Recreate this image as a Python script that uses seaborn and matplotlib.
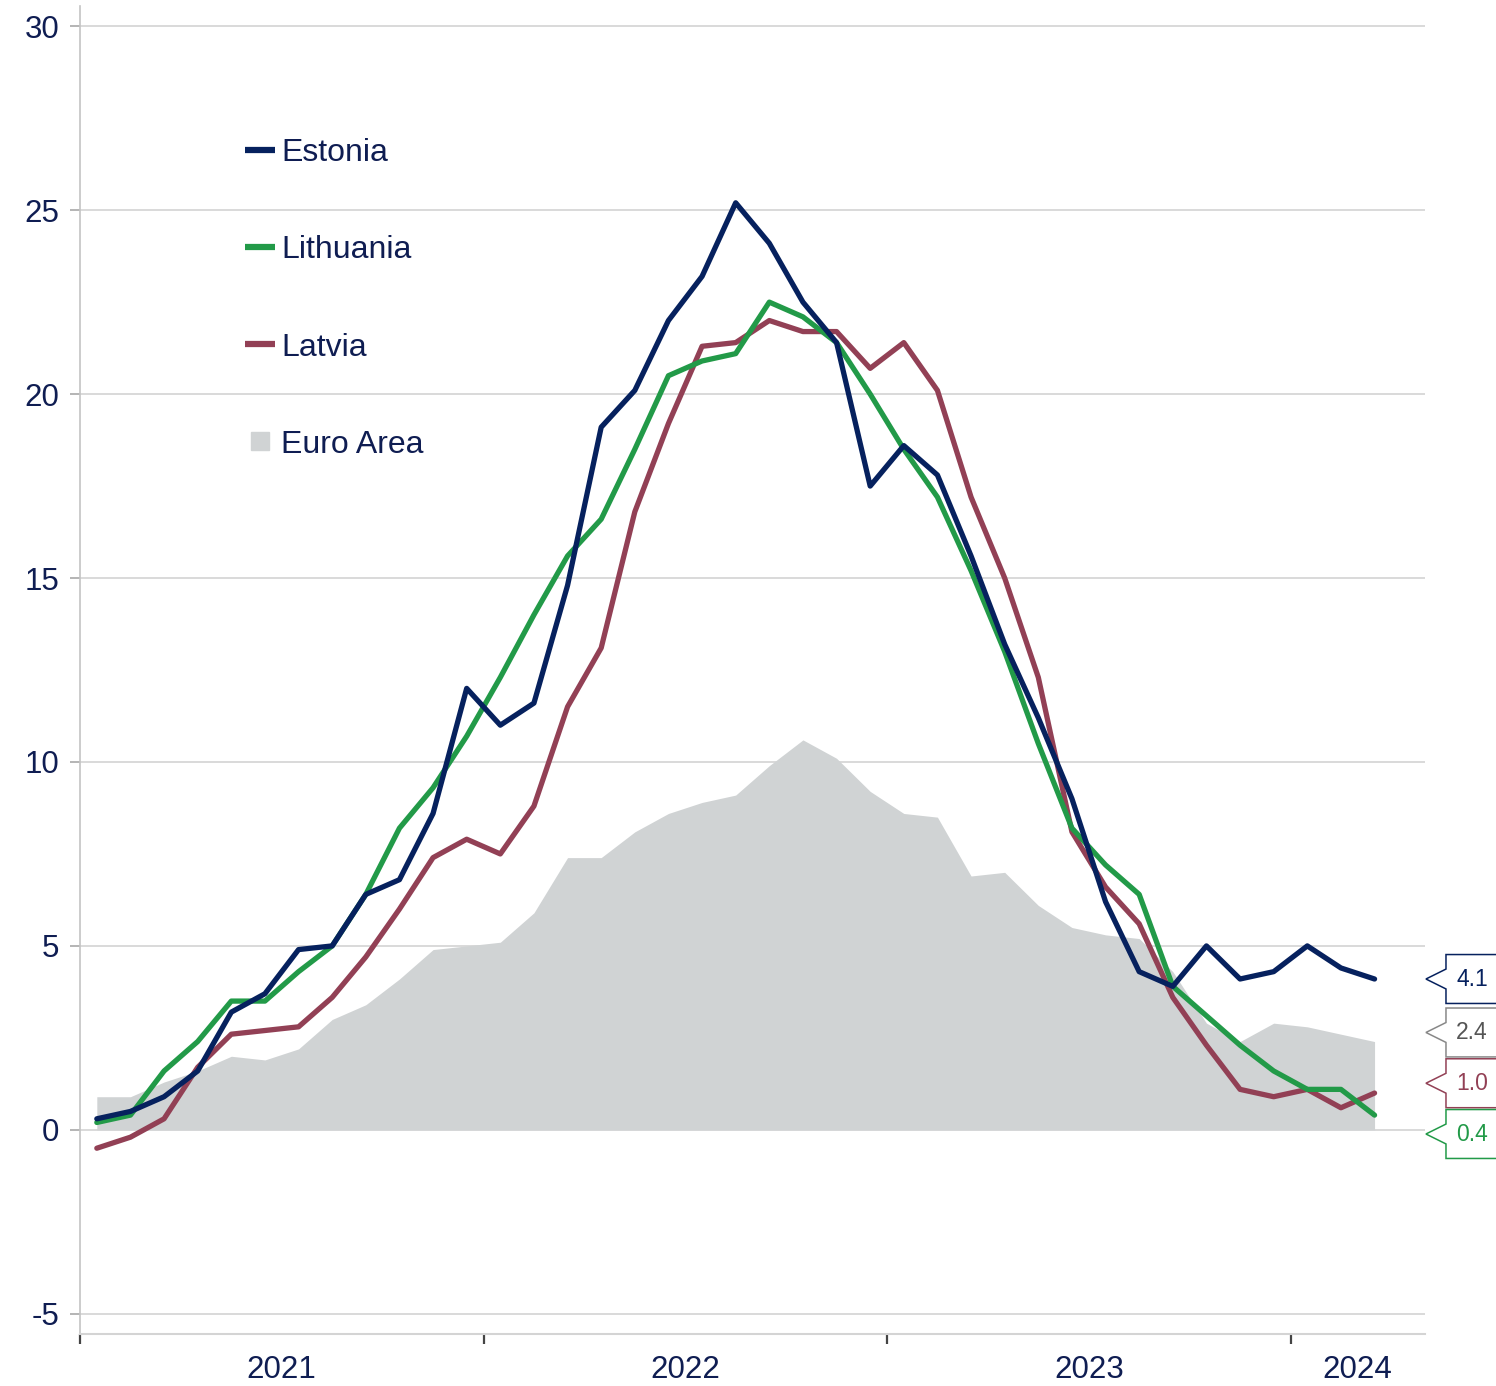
import numpy as np
import pandas as pd
import matplotlib
matplotlib.use("Agg")
import matplotlib.pyplot as plt
import matplotlib.transforms as mtransforms
from matplotlib.lines import Line2D
from matplotlib.patches import Polygon
import seaborn as sns

# monthly HICP inflation, Jan 2021 - Mar 2024
months = pd.period_range("2021-01", "2024-03", freq="M").astype(str).tolist()
estonia = [0.3, 0.5, 0.9, 1.6, 3.2, 3.7, 4.9, 5.0, 6.4, 6.8, 8.6, 12.0,
           11.0, 11.6, 14.8, 19.1, 20.1, 22.0, 23.2, 25.2, 24.1, 22.5, 21.4, 17.5,
           18.6, 17.8, 15.6, 13.2, 11.2, 9.0, 6.2, 4.3, 3.9, 5.0, 4.1, 4.3,
           5.0, 4.4, 4.1]
lithuania = [0.2, 0.4, 1.6, 2.4, 3.5, 3.5, 4.3, 5.0, 6.4, 8.2, 9.3, 10.7,
             12.3, 14.0, 15.6, 16.6, 18.5, 20.5, 20.9, 21.1, 22.5, 22.1, 21.4, 20.0,
             18.5, 17.2, 15.2, 13.0, 10.5, 8.2, 7.2, 6.4, 3.9, 3.1, 2.3, 1.6,
             1.1, 1.1, 0.4]
latvia = [-0.5, -0.2, 0.3, 1.7, 2.6, 2.7, 2.8, 3.6, 4.7, 6.0, 7.4, 7.9,
          7.5, 8.8, 11.5, 13.1, 16.8, 19.2, 21.3, 21.4, 22.0, 21.7, 21.7, 20.7,
          21.4, 20.1, 17.2, 15.0, 12.3, 8.1, 6.6, 5.6, 3.6, 2.3, 1.1, 0.9,
          1.1, 0.6, 1.0]
euro_area = [0.9, 0.9, 1.3, 1.6, 2.0, 1.9, 2.2, 3.0, 3.4, 4.1, 4.9, 5.0,
             5.1, 5.9, 7.4, 7.4, 8.1, 8.6, 8.9, 9.1, 9.9, 10.6, 10.1, 9.2,
             8.6, 8.5, 6.9, 7.0, 6.1, 5.5, 5.3, 5.2, 4.3, 2.9, 2.4, 2.9,
             2.8, 2.6, 2.4]
years = ["2021", "2022", "2023", "2024"]
y_ticks = [-5, 0, 5, 10, 15, 20, 25, 30]

navy = "#06215e"
green = "#229a48"
maroon = "#924055"
grey_fill = "#d0d3d4"
text_col = "#0f1d52"

sns.set_style("white")
plt.rcParams["font.family"] = ["Liberation Sans", "DejaVu Sans"]
plt.rcParams["axes.unicode_minus"] = False

x = np.arange(len(months)) + 0.5
df = pd.DataFrame({"x": x, "Estonia": estonia, "Lithuania": lithuania, "Latvia": latvia})
long = df.melt(id_vars="x", var_name="country", value_name="value")

fig = plt.figure(figsize=(14.96, 13.86), dpi=100)
ax = fig.add_axes([80 / 1496, 52 / 1386, 1345 / 1496, 1328 / 1386])

ax.fill_between(x, 0, euro_area, color=grey_fill, lw=0, zorder=1)
sns.lineplot(data=long, x="x", y="value", hue="country",
             hue_order=["Latvia", "Lithuania", "Estonia"],
             palette={"Estonia": navy, "Lithuania": green, "Latvia": maroon},
             linewidth=3.8, ax=ax, legend=False, zorder=3)

ax.set_xlim(0, 40)
ax.set_ylim(-5.55, 30.55)
ax.set_xlabel("")
ax.set_ylabel("")

# y axis
ax.set_yticks(y_ticks)
ax.set_yticklabels([str(t) for t in y_ticks])
ax.tick_params(axis="y", left=True, length=7, width=1.2, color="#a8a8a8", pad=8,
               labelsize=22.5, labelcolor=text_col)
ax.yaxis.grid(True, color="#d9d9d9", lw=1.4)
ax.set_axisbelow(True)

# x axis: ticks at year boundaries, labels centred in each year
ax.set_xticks([0, 12, 24, 36])
ax.set_xticklabels([])
ax.tick_params(axis="x", which="major", bottom=True, length=7.5, width=1.6,
               color="#444444", direction="out")
ax.set_xticks([6, 18, 30, 38], minor=True)
ax.set_xticklabels(years, minor=True)
ax.tick_params(axis="x", which="minor", bottom=True, length=0, pad=15,
               labelsize=22.5, labelcolor=text_col)

for s in ["top", "right"]:
    ax.spines[s].set_visible(False)
ax.spines["left"].set_color("#c4c4c4")
ax.spines["left"].set_linewidth(1.2)
ax.spines["bottom"].set_color("#d4d4d4")
ax.spines["bottom"].set_linewidth(1.5)

# legend
handles = [Line2D([], [], color=navy, lw=4.5, solid_capstyle="butt"),
           Line2D([], [], color=green, lw=4.5, solid_capstyle="butt"),
           Line2D([], [], color=maroon, lw=4.5, solid_capstyle="butt"),
           Line2D([], [], color=grey_fill, marker="s", markersize=13, lw=0)]
leg = ax.legend(handles, ["Estonia", "Lithuania", "Latvia", "Euro Area"],
                loc="upper left", bbox_to_anchor=(0.101, 0.922), frameon=False,
                fontsize=23, labelspacing=2.1, handlelength=0.95, handletextpad=0.2)
for t in leg.get_texts():
    t.set_color(text_col)

# last-value tags on the right, spread out so they don't overlap
last = [("4.1", estonia[-1], navy, navy),
        ("2.4", euro_area[-1], "#888888", "#555555"),
        ("1.0", latvia[-1], maroon, maroon),
        ("0.4", lithuania[-1], green, green)]
last = sorted(last, key=lambda r: -r[1])
gap = 1.38
clusters = [[i] for i in range(len(last))]
pos = [r[1] for r in last]
changed = True
while changed:
    changed = False
    for c in clusters:
        mean = np.mean([last[i][1] for i in c])
        for k, i in enumerate(c):
            pos[i] = mean + ((len(c) - 1) / 2 - k) * gap
    for j in range(len(clusters) - 1):
        if pos[clusters[j][-1]] - pos[clusters[j + 1][0]] < gap - 1e-9:
            clusters[j] = clusters[j] + clusters[j + 1]
            del clusters[j + 1]
            changed = True
            break

trans = mtransforms.blended_transform_factory(ax.transAxes, ax.transData)
half_h = 0.665
notch = 0.27
x_tip, x_box, x_end = 1.0007, 1.0156, 1.06
for (lab, val, edge, tcol), yc in zip(last, pos):
    verts = [(x_end, yc + half_h), (x_box, yc + half_h), (x_box, yc + notch),
             (x_tip, yc), (x_box, yc - notch), (x_box, yc - half_h), (x_end, yc - half_h)]
    ax.add_patch(Polygon(verts, closed=True, facecolor="white", edgecolor=edge,
                         lw=1.1, transform=trans, clip_on=False, zorder=5))
    ax.text(1.035, yc, lab, transform=trans, ha="center", va="center",
            fontsize=16.5, color=tcol, zorder=6, clip_on=False)

fig.savefig("out.png", dpi=100)
